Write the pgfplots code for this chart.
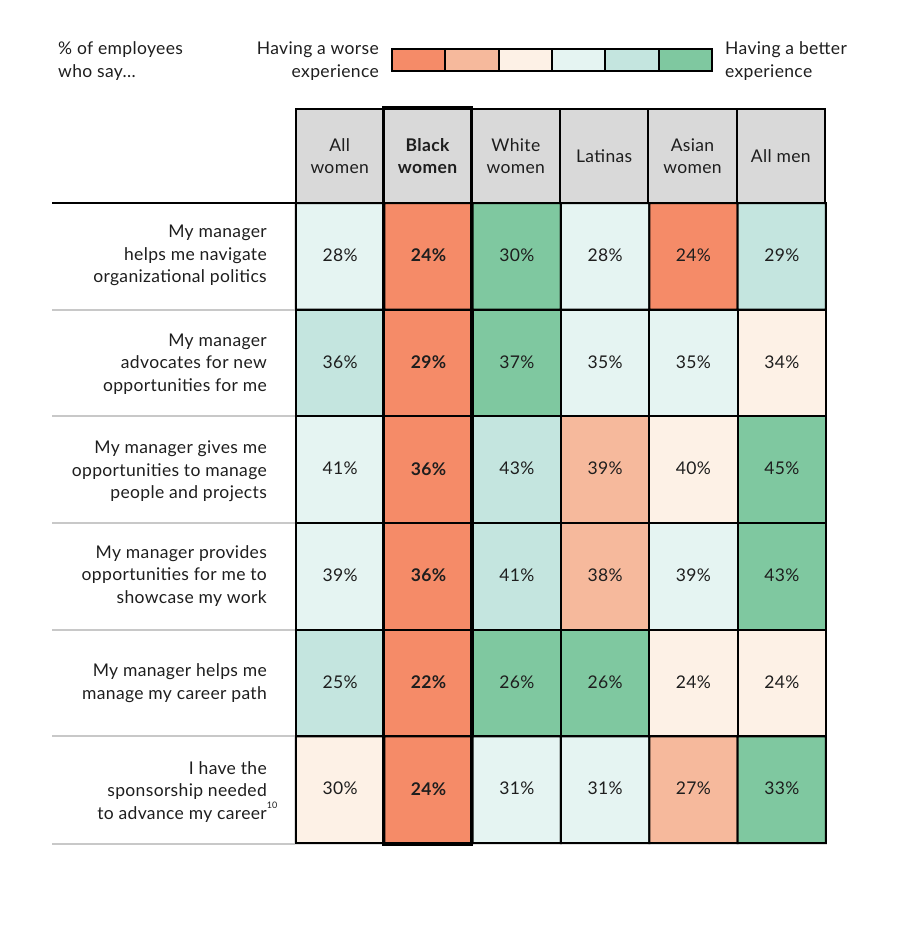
\documentclass[border=0pt]{standalone}
\usepackage{pgfplots}
\usepackage{pgfplotstable}
\pgfplotsset{compat=1.18}
\usepackage{fontspec}
\setmainfont{Lato}[LetterSpace=2]
\definecolor{cA}{RGB}{245,139,104}
\definecolor{cB}{RGB}{246,185,156}
\definecolor{cC}{RGB}{253,241,230}
\definecolor{cD}{RGB}{229,244,242}
\definecolor{cE}{RGB}{196,229,223}
\definecolor{cF}{RGB}{127,200,160}
\definecolor{hdr}{RGB}{217,217,217}
\definecolor{sep}{RGB}{200,200,200}
\definecolor{txt}{RGB}{30,30,30}
\newcommand{\fs}{\fontsize{17.5}{22.5}\selectfont}
% x = column centre, y = row centre, lev = colour class (0 worse ... 5 better), val = percent
\pgfplotstableread{
x y lev val
0.5 0.5 3 28
1.5 0.5 0 24
2.5 0.5 5 30
3.5 0.5 3 28
4.5 0.5 0 24
5.5 0.5 4 29
0.5 1.5 4 36
1.5 1.5 0 29
2.5 1.5 5 37
3.5 1.5 3 35
4.5 1.5 3 35
5.5 1.5 2 34
0.5 2.5 3 41
1.5 2.5 0 36
2.5 2.5 4 43
3.5 2.5 1 39
4.5 2.5 2 40
5.5 2.5 5 45
0.5 3.5 3 39
1.5 3.5 0 36
2.5 3.5 4 41
3.5 3.5 1 38
4.5 3.5 3 39
5.5 3.5 5 43
0.5 4.5 4 25
1.5 4.5 0 22
2.5 4.5 5 26
3.5 4.5 5 26
4.5 4.5 2 24
5.5 4.5 2 24
0.5 5.5 2 30
1.5 5.5 0 24
2.5 5.5 3 31
3.5 5.5 3 31
4.5 5.5 1 27
5.5 5.5 5 33
}\cells
\begin{document}
\begin{tikzpicture}
\begin{axis}[
  width=900pt, height=948pt, scale only axis, hide axis,
  xmin=-3.351, xmax=6.838, ymin=-1.903, ymax=6.984,
  y dir=reverse, clip=false, enlargelimits=false,
  colormap={exp}{rgb255=(245,139,104) rgb255=(246,185,156) rgb255=(253,241,230) rgb255=(229,244,242) rgb255=(196,229,223) rgb255=(127,200,160)},
  point meta min=0, point meta max=5,
]
\path (rel axis cs:0,0) rectangle (rel axis cs:1,1);
\addplot[matrix plot*, mesh/cols=6, point meta=explicit, draw=black, line width=2pt]
  table[meta=lev] {\cells};
\addplot[only marks, mark=none, point meta=explicit symbolic,
  x filter/.expression={abs(x-1.5)<0.1 ? nan : x}, unbounded coords=discard,
  nodes near coords={\pgfplotspointmeta\%},
  every node near coord/.append style={anchor=center, font=\fs, text=txt, yshift=1pt}]
  table[meta=val] {\cells};
\addplot[only marks, mark=none, point meta=explicit symbolic,
  x filter/.expression={abs(x-1.5)<0.1 ? x : nan}, unbounded coords=discard,
  nodes near coords={\pgfplotspointmeta\%},
  every node near coord/.append style={anchor=center, font=\fs\bfseries, text=txt, yshift=1pt}]
  table[meta=val] {\cells};
\end{axis}
\begin{scope}[x=1pt, y=-1pt, yshift=948pt]
  % header cells
  \foreach \i/\a/\b in {0/296/383.3,1/383.3/471.7,2/471.7/560,3/560/648.3,4/648.3/736.7,5/736.7/825}{
    \filldraw[fill=hdr, draw=black, line width=2pt] (\a,109) rectangle (\b,203);
  }
  \begin{scope}[every node/.style={align=center, font=\fs, text=txt, inner sep=0pt}]
    \node at (339.7,156) {All\\women};
    \node[font=\fs\bfseries] at (427.5,156) {Black\\women};
    \node at (515.8,156) {White\\women};
    \node at (604.2,156) {Latinas};
    \node at (692.5,156) {Asian\\women};
    \node at (780.8,156) {All men};
  \end{scope}
  % Black women column emphasis
  \draw[black, line width=3.5pt] (383.3,108) rectangle (471.7,844);
  % left separators
  \draw[black, line width=2pt] (52,203) -- (296,203);
  \foreach \yy in {309.7,416.3,523,629.7,736.3,844}{
    \draw[sep, line width=2pt] (52,\yy) -- (295,\yy);
  }
  % row labels
  \begin{scope}[every node/.style={align=right, anchor=east, font=\fs, text=txt, inner sep=0pt}]
    \node at (267,255.5) {My manager\\helps me navigate\\organizational politics};
    \node at (267,364) {My manager\\advocates for new\\opportunities for me};
    \node at (267,471.5) {My manager gives me\\opportunities to manage\\people and projects};
    \node at (267,576) {My manager provides\\opportunities for me to\\showcase my work};
    \node at (267,683) {My manager helps me\\manage my career path};
    \node at (267,792) {I have the\\sponsorship needed\\to advance my career\rlap{\raisebox{1.2ex}{\fontsize{9}{9}\selectfont 10}}};
  \end{scope}
  % legend
  \node[align=left, anchor=west, font=\fs, text=txt, inner sep=0pt] at (58,61) {\% of employees\\who say…};
  \node[align=right, anchor=east, font=\fs, text=txt, inner sep=0pt] at (379,61) {Having a worse\\experience};
  \node[align=left, anchor=west, font=\fs, text=txt, inner sep=0pt] at (725,61) {Having a better\\experience};
  \foreach \c [count=\k from 0] in {cA,cB,cC,cD,cE,cF}{
    \filldraw[fill=\c, draw=black, line width=1.8pt] ({392+53.33*\k},49) rectangle ({392+53.33*(\k+1)},71);
  }
  \draw[black, line width=2.5pt] (392,49) rectangle (712,71);
\end{scope}
\end{tikzpicture}
\end{document}
